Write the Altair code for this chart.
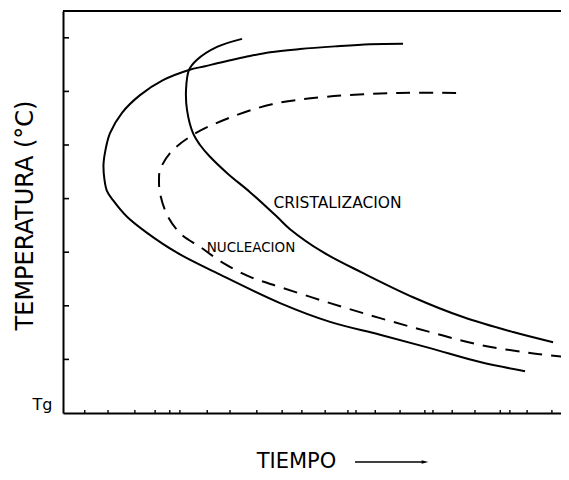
import altair as alt
import pandas as pd

# Curva exterior (sólida)
outer_x = [67.19, 60.67, 53.75, 46.84, 40.91, 35.97, 31.62, 28.06, 24.90, 19.76, 15.22,
           11.66, 9.29, 8.40, 8.00, 8.20, 8.70, 9.88, 12.65, 16.60, 22.53, 30.43, 42.89,
           52.77, 62.65, 72.53, 82.41, 91.30]
outer_y = [6.89, 6.88, 6.84, 6.79, 6.73, 6.64, 6.55, 6.47, 6.40, 6.21, 5.93,
           5.60, 5.22, 4.91, 4.63, 4.35, 4.14, 3.97, 3.66, 3.36, 2.99, 2.61, 2.05,
           1.70, 1.46, 1.21, 0.95, 0.78]

# Cristalización (sólida interior)
cryst_x = [35.38, 30.43, 26.48, 24.90, 24.31, 24.51, 25.69, 27.08, 29.05, 32.61, 36.96,
           42.29, 44.86, 51.38, 59.29, 69.17, 79.05, 88.93, 96.84]
cryst_y = [6.98, 6.83, 6.59, 6.40, 6.03, 5.65, 5.22, 5.00, 4.78, 4.46, 4.12,
           3.66, 3.43, 3.00, 2.61, 2.16, 1.79, 1.51, 1.32]

# Nucleación (discontinua)
nuc_x = [77.67, 66.40, 52.17, 41.30, 32.41, 25.69, 21.15, 19.17, 18.97, 19.17, 20.75,
         23.52, 27.08, 31.62, 36.96, 42.89, 52.77, 62.65, 72.53, 82.41, 92.29, 99.80]
nuc_y = [5.97, 5.97, 5.90, 5.76, 5.49, 5.19, 4.85, 4.53, 4.35, 4.10, 3.66,
         3.32, 3.10, 2.80, 2.54, 2.35, 2.05, 1.77, 1.51, 1.27, 1.12, 1.04]

y_ticks = [1, 2, 3, 4, 5, 6, 7]
x_minor_ticks = [4.3, 8.9, 14.2, 18.2, 21.1, 23.1, 28.5, 33.0, 38.3, 43.3, 47.2, 51.8,
                 56.3, 57.9, 61.7, 66.6, 71.5, 73.1, 76.9, 81.4, 86.4, 88.3, 91.7, 96.6]

label_text = ["CRISTALIZACION", "NUCLEACION"]
label_x = [54.25, 37.15]
label_y = [3.91, 3.08]
label_size = [15.5, 13.5]

X_MAX = 98.4
W, H = 498, 402

rows = []
for name, xs_, ys_ in [("exterior", outer_x, outer_y),
                       ("cristalizacion", cryst_x, cryst_y),
                       ("nucleacion", nuc_x, nuc_y)]:
    for i, (a, b) in enumerate(zip(xs_, ys_)):
        rows.append({"serie": name, "orden": i, "x": a, "y": b})
curves = pd.DataFrame(rows)

xscale = alt.Scale(domain=[0, X_MAX], nice=False, zero=False)
yscale = alt.Scale(domain=[0, 7.5], nice=False, zero=False)

xaxis = alt.Axis(domain=True, domainColor="black", domainWidth=2, ticks=False,
                 labels=False, grid=False, title="TIEMPO", titleFontSize=21,
                 titleFontWeight="normal", titleColor="black", titleX=233, titleY=54,
                 titleBaseline="alphabetic", titleAlign="center")
yaxis = alt.Axis(domain=True, domainColor="black", domainWidth=2, ticks=False,
                 grid=False, values=[0], labelExpr="'Tg'", labelFontSize=16,
                 labelColor="black", labelPadding=11, labelBaseline="alphabetic",
                 labelOffset=-4, labelFlush=False,
                 title="TEMPERATURA (°C)", titleFontSize=24, titleFontWeight="normal",
                 titleColor="black", titleX=-31, titleY=204,
                 titleBaseline="alphabetic", titleAlign="center")

X = alt.X("x:Q", scale=xscale, axis=xaxis)
Y = alt.Y("y:Q", scale=yscale, axis=yaxis)

solid = alt.Chart(curves).transform_filter(
    alt.datum.serie != "nucleacion"
).mark_line(color="black", strokeWidth=2, interpolate="catmull-rom", clip=True).encode(
    x=X, y=Y, detail="serie:N", order="orden:Q"
)

dashed = alt.Chart(curves).transform_filter(
    alt.datum.serie == "nucleacion"
).mark_line(color="black", strokeWidth=2, strokeDash=[14, 9],
            interpolate="catmull-rom", clip=True).encode(
    x=X, y=Y, order="orden:Q"
)

labels = alt.Chart(pd.DataFrame({"t": label_text, "x": label_x, "y": label_y,
                                 "s": label_size})).mark_text(
    color="black", align="center", baseline="middle", font="DejaVu Sans"
).encode(x=X, y=Y, text="t:N", size=alt.Size("s:Q", scale=None))

ytick_marks = alt.Chart(pd.DataFrame({"y": y_ticks})).mark_rule(
    color="black", strokeWidth=1.6
).encode(y=Y, x=alt.value(0), x2=alt.value(6))

xtick_marks = alt.Chart(pd.DataFrame({"x": x_minor_ticks})).mark_rule(
    color="black", strokeWidth=1.4
).encode(x=X, y=alt.value(H), y2=alt.value(H - 3))

top_frame = alt.Chart(pd.DataFrame({"a": [0]})).mark_rule(
    color="black", strokeWidth=2
).encode(y=alt.datum(7.5, scale=yscale), x=alt.datum(0, scale=xscale),
         x2=alt.datum(X_MAX))

arrow_line = alt.Chart(pd.DataFrame({"a": [0]})).mark_rule(
    color="black", strokeWidth=1.5
).encode(x=alt.value(292), x2=alt.value(360), y=alt.value(451))

arrow_head = alt.Chart(pd.DataFrame({"a": [0]})).mark_point(
    shape="M-1,-0.5L1,0L-1,0.5Z", filled=True, size=45, color="black", opacity=1
).encode(x=alt.value(362), y=alt.value(451))

chart = alt.layer(
    solid, dashed, labels, ytick_marks, xtick_marks, top_frame, arrow_line, arrow_head
).properties(
    width=W, height=H,
    autosize=alt.AutoSizeParams(type="none"),
    padding={"left": 55, "top": 3, "right": 0, "bottom": 59},
    background="white",
).configure_view(stroke=None).configure(font="DejaVu Sans")

chart.save("out.html", embed_options={"renderer": "svg", "actions": False})
